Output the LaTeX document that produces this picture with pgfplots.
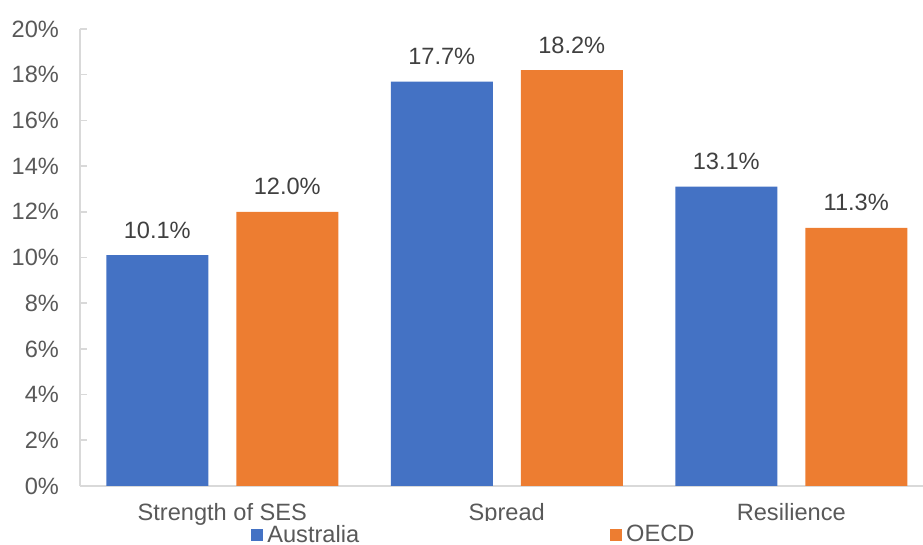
\documentclass[border=0pt]{standalone}
\usepackage{pgfplots}
\pgfplotsset{compat=1.18}
\usepackage{fontspec}
\setmainfont{Liberation Sans}

\definecolor{ausblue}{HTML}{4472C4}
\definecolor{oecdorange}{HTML}{ED7D31}
\definecolor{labelgray}{HTML}{595959}
\definecolor{valuegray}{HTML}{404040}
\definecolor{axisgray}{HTML}{D9D9D9}

\begin{document}
\begin{tikzpicture}
\begin{axis}[
  name=ax,
  width=421.5pt, height=228.5pt,
  scale only axis,
  ybar=14pt,
  bar width=51pt,
  ymin=0, ymax=20,
  xmin=-0.5, xmax=2.463,
  ytick={0,2,...,20},
  yticklabel={\pgfmathprintnumber{\tick}\%},
  /pgf/number format/assume math mode=true,
  xtick={0,1,2},
  xticklabels={Strength of SES, Spread, Resilience},
  extra x ticks={0.5,1.5},
  extra x tick labels={},
  extra x tick style={major tick length=3.5pt, tick style={axisgray, line width=0.8pt}},
  x tick style={draw=none},
  axis x line*=bottom,
  axis y line*=left,
  axis line style={axisgray, line width=1pt, -},
  y tick style={axisgray, line width=0.8pt},
  tick align=inside,
  major tick length=3.5pt,
  tick label style={font=\fontsize{11.8}{14}\selectfont, text=labelgray},
  yticklabel style={xshift=-7pt},
  xticklabel style={yshift=-5pt},
  nodes near coords={\pgfmathprintnumber[fixed,fixed zerofill,precision=1]{\pgfplotspointmeta}\%},
  every node near coord/.append style={font=\fontsize{11.8}{14}\selectfont, text=valuegray, anchor=base, yshift=8.5pt, inner sep=0pt},
  legend columns=2,
  legend style={
    at={(rel axis cs:0.2028,0)}, anchor=west, yshift=-24.5pt,
    draw=none, inner sep=0pt,
    font=\fontsize{11.8}{14}\selectfont, text=labelgray,
    /tikz/every even column/.append style={column sep=123.5pt},
  },
  legend image code/.code={\fill[#1] (0pt,-3pt) rectangle (6pt,3pt);},
  legend cell align=left,
]
\addplot[fill=ausblue, draw=none] coordinates {(0,10.1) (1,17.7) (2,13.1)};
\addplot[fill=oecdorange, draw=none] coordinates {(0,12.0) (1,18.2) (2,11.3)};
\legend{Australia, OECD}
\end{axis}
\pgfresetboundingbox
\path[use as bounding box] (ax.south west) ++(-40pt,-29.5pt) rectangle ++(461.5pt,272.5pt);
\end{tikzpicture}
\end{document}
